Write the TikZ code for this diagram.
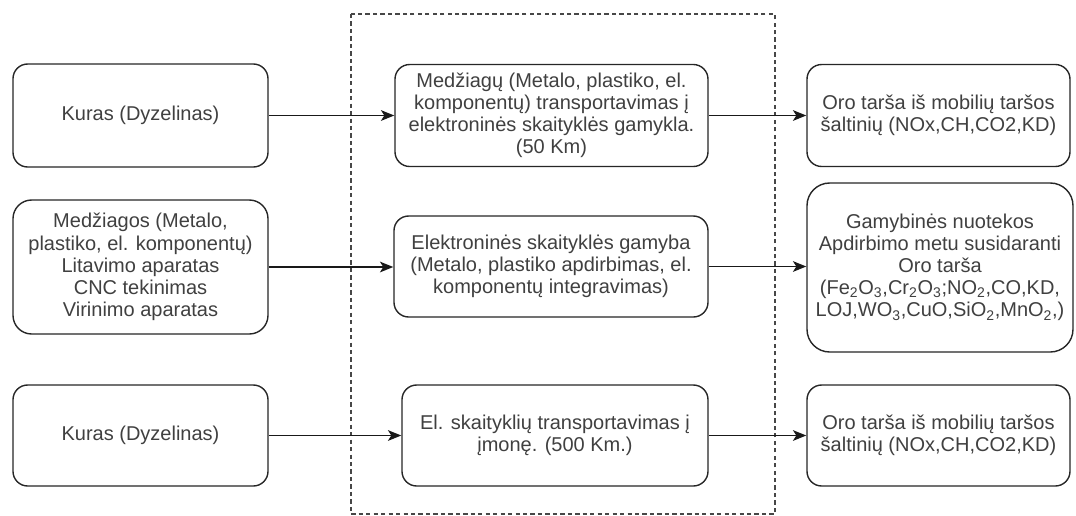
\documentclass[tikz,border=0pt]{standalone}
\usepackage{fontspec}
\setmainfont{Liberation Sans}
\usetikzlibrary{arrows.meta}
\begin{document}
\begin{tikzpicture}[x=0.75pt,y=-0.75pt,
  box/.style={draw=black!85, line width=1.05pt, fill=white, inner sep=0pt,
    align=center, text=black!75,
    font=\fontsize{15pt}{16.6pt}\selectfont},
  arr/.style={draw=black!90, line width=1.05pt,
    -{Stealth[length=10pt,width=8pt,inset=2.5pt]}},
  frame/.style={draw=black!72, line width=1pt, dash pattern=on 3.2pt off 2.4pt}]
\useasboundingbox (0,0) rectangle (1076,515);
\begin{scope}
\clip (0,0) rectangle (1076,515);
% system boundary around the process steps
\draw[frame] (351,14) rectangle (775,514);
\end{scope}

% inputs
\node[box, rounded corners=11pt, minimum width=255*0.75pt, minimum height=103*0.75pt]
  (in1) at (140.5,115.5) {Kuras (Dyzelinas)};
\node[box, rounded corners=14pt, minimum width=255*0.75pt, minimum height=134*0.75pt]
  (in2) at (140.5,267) {Medžiagos (Metalo,\\plastiko, el. komponentų)\\Litavimo aparatas\\CNC tekinimas\\Virinimo aparatas};
\node[box, rounded corners=11pt, minimum width=255*0.75pt, minimum height=101*0.75pt]
  (in3) at (140.5,435.5) {Kuras (Dyzelinas)};

% process steps
\node[box, rounded corners=11pt, minimum width=313*0.75pt, minimum height=102*0.75pt]
  (p1) at (551.5,115.5) {Medžiagų (Metalo, plastiko, el.\\komponentų) transportavimas į\\elektroninės skaityklės gamykla.\\(50 Km)};
\node[box, rounded corners=11pt, minimum width=314*0.75pt, minimum height=101*0.75pt]
  (p2) at (551,266.5) {Elektroninės skaityklės gamyba\\(Metalo, plastiko apdirbimas, el.\\komponentų integravimas)};
\node[box, rounded corners=11pt, minimum width=306*0.75pt, minimum height=101*0.75pt]
  (p3) at (555,435.5) {El. skaityklių transportavimas į\\įmonę. (500 Km.)};

% outputs
\node[box, rounded corners=11pt, minimum width=263*0.75pt, minimum height=102*0.75pt]
  (out1) at (938.5,115.5) {Oro tarša iš mobilių taršos\\šaltinių (NOx,CH,CO2,KD)};
\node[box, rounded corners=17pt, minimum width=266*0.75pt, minimum height=169*0.75pt]
  (out2) at (940,267.5) {Gamybinės nuotekos\\Apdirbimo metu susidaranti\\Oro tarša\\(Fe\textsubscript{2}O\textsubscript{3},Cr\textsubscript{2}O\textsubscript{3};NO\textsubscript{2},CO,KD,\\LOJ,WO\textsubscript{3},CuO,SiO\textsubscript{2},MnO\textsubscript{2},)};
\node[box, rounded corners=11pt, minimum width=263*0.75pt, minimum height=101*0.75pt]
  (out3) at (938.5,435.5) {Oro tarša iš mobilių taršos\\šaltinių (NOx,CH,CO2,KD)};

% flows
\draw[arr] (in1.east) -- (in1.east -| p1.west);
\draw[arr] (in2.east) -- (in2.east -| p2.west);
\draw[arr] (in3.east) -- (in3.east -| p3.west);
\draw[arr] (p1.east) -- (p1.east -| out1.west);
\draw[arr] (p2.east) -- (p2.east -| out2.west);
\draw[arr] (p3.east) -- (p3.east -| out3.west);
\end{tikzpicture}
\end{document}
